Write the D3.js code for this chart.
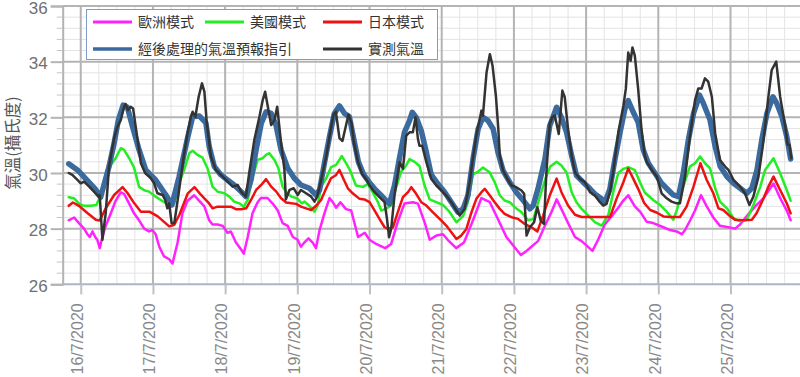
<!DOCTYPE html>
<html><head><meta charset="utf-8">
<script src="https://cdn.jsdelivr.net/npm/d3@7"></script>
<style>
body{margin:0;background:#fff;}
svg{display:block;font-family:"Liberation Sans",Arial,sans-serif;}
.cjk{font-family:"Noto Sans CJK TC","Noto Sans CJK SC",sans-serif;}
</style>
</head><body>
<svg id="chart" width="800" height="377"></svg>
<script>
// ---- data (hours after 16/7/2020 00:00, temperature °C) ----
const dayLabels = ["16/7/2020","17/7/2020","18/7/2020","19/7/2020","20/7/2020","21/7/2020","22/7/2020","23/7/2020","24/7/2020","25/7/2020"];
const yTickValues = [26,28,30,32,34,36];
const seriesNames = ["歐洲模式","美國模式","日本模式","經後處理的氣溫預報指引","實測氣溫"];

const ecmwf = [[-4,28.3],[-2.2,28.4],[-0.6,28.2],[1.1,28.0],[2.2,27.8],[3,27.7],[3.9,27.9],[4.8,27.7],[5.5,27.6],[6.3,27.3],[7.2,27.7],[8.3,28.1],[10,28.55],[11.6,29.0],[13.3,29.3],[14.4,29.25],[16.1,28.9],[17.7,28.55],[19.4,28.3],[21.1,28.0],[22.7,27.9],[23.8,27.95],[24.9,27.8],[26.1,27.35],[27.7,27.0],[29.4,26.9],[30.5,26.75],[32.2,27.5],[33.8,28.55],[35.5,29.0],[37.7,29.2],[39.4,29.0],[41.1,28.8],[42.7,28.3],[43.8,28.15],[45.5,28.15],[47.2,28.1],[48.8,27.85],[49.9,27.9],[51.6,27.5],[53.3,27.25],[54.2,27.1],[55.5,27.7],[57.1,28.55],[58.8,28.95],[59.9,29.1],[62.1,29.1],[63.8,28.9],[65.5,28.65],[67.1,28.2],[68.8,28.1],[70.5,27.7],[72.1,27.6],[73.2,27.35],[74.3,27.5],[75.7,27.65],[77.1,27.5],[78.2,27.3],[79.4,27.95],[81,28.55],[82.7,29.1],[83.8,28.95],[84.9,28.75],[86.3,28.95],[88.2,28.7],[89.9,28.65],[92.2,27.7],[94.4,27.85],[96,27.6],[98.2,27.45],[101.2,27.3],[103.2,27.45],[105.4,28.25],[107.6,28.9],[110.4,28.95],[112.1,28.9],[114.4,28.2],[116,27.6],[118.2,27.75],[120.4,27.8],[122,27.6],[124.8,27.3],[127.4,27.5],[130.4,28.3],[133.2,29.1],[136,28.95],[139.3,28.2],[141.5,27.7],[143.7,27.4],[146.3,27.05],[148.2,27.2],[149.8,27.35],[152,27.55],[154.3,28.1],[156.5,28.6],[158.2,29.05],[159.8,28.7],[162,28.2],[164.3,27.7],[166.5,27.55],[168.1,27.4],[170.1,27.2],[172,27.6],[174.2,28.15],[176.5,28.45],[178.7,28.75],[180.3,29.0],[182,29.2],[184.2,28.8],[186,28.6],[188.1,28.25],[190.3,28.2],[193.7,28.05],[195.9,27.95],[198.1,27.9],[199.8,27.8],[200.9,27.95],[202.6,28.3],[204.2,28.65],[206.2,29.2],[208.1,28.8],[210.3,28.4],[212.5,28.1],[215.3,28.05],[217.5,28.0],[219.2,28.15],[221.4,28.45],[224.2,28.8],[227,29.1],[230.3,29.62],[232.5,29.1],[234.7,28.65],[236,28.3]];

const ncep = [[-4,29.13],[-2.2,29.09],[-0.6,28.9],[1.1,28.82],[3.3,28.82],[5.2,28.85],[6.6,29.2],[8.3,29.88],[10,30.29],[11.6,30.53],[13.3,30.89],[14.4,30.83],[16.1,30.53],[17.7,30.2],[19.4,29.5],[21.1,29.38],[22.7,29.33],[24.9,29.15],[26.6,29.03],[28.3,28.91],[29.9,28.79],[31.1,28.91],[32.7,29.63],[34.4,30.12],[36.1,30.71],[37.2,30.8],[38.8,30.65],[40.5,30.55],[42.2,30.15],[43.8,29.51],[45.5,29.33],[47.7,29.27],[49.4,29.15],[51,28.97],[52.7,28.91],[54.2,28.79],[55.5,29.03],[57.2,29.87],[58.8,30.47],[60.5,30.53],[61.6,30.65],[62.7,30.71],[64.4,30.47],[65.7,30.17],[67.1,29.51],[68.6,29.27],[70.1,29.15],[71.9,29.09],[73.5,28.91],[74.4,28.97],[76,28.82],[77.7,28.61],[78.8,28.85],[79.9,29.51],[81.6,29.81],[83.2,30.21],[84.9,30.29],[86.8,30.61],[88.2,30.35],[89.5,30.1],[91.5,29.55],[93.8,29.5],[95.4,29.6],[97.1,29.3],[98.8,28.95],[99.9,28.65],[101.5,28.72],[103.2,28.83],[104.9,29.5],[106.5,30.05],[108.2,30.27],[109.3,30.5],[111,30.4],[112.6,30.25],[114.3,29.55],[116,29.05],[118.2,28.95],[120.4,28.85],[122.6,28.6],[124.9,28.23],[127.1,28.45],[128.7,28.95],[130.4,29.95],[132.1,30.05],[133.7,30.2],[135.9,30.03],[137.6,29.67],[139.3,29.2],[140.9,29.01],[142.6,28.95],[144.3,28.77],[146.5,28.59],[148.7,28.3],[150.5,28.35],[152.5,29.1],[154.5,29.8],[156,30.22],[158.2,30.4],[159.8,30.27],[161.5,30.02],[163.2,29.31],[164.8,28.95],[166.5,28.71],[168.7,28.47],[170.9,28.23],[173.2,28.11],[175.4,28.5],[177,29.31],[178.7,30.0],[180.4,30.15],[182,30.21],[184.2,30.1],[185.9,29.67],[187.5,29.3],[190.3,29.03],[192.6,28.85],[194.8,28.61],[197,28.32],[198.1,28.65],[200.3,29.51],[202.5,30.23],[204.2,30.35],[205.9,30.59],[207.5,30.35],[209.2,30.17],[210.9,29.45],[212.5,28.97],[214.8,28.73],[217,28.38],[219.2,28.26],[221.4,28.32],[223.6,28.85],[225.9,29.51],[227.5,30.11],[230.3,30.53],[232.5,29.99],[234.7,29.39],[236,29.0]];

const jma = [[-4,28.82],[-2.6,28.94],[-0.6,28.82],[2.2,28.56],[5,28.32],[6.3,28.29],[8.3,28.73],[11.1,29.21],[13.9,29.49],[15.6,29.27],[17.8,28.91],[20,28.61],[22.8,28.61],[25.6,28.44],[29.4,28.08],[31.1,28.14],[32.8,28.5],[35.6,29.27],[37.8,29.49],[40,29.21],[42.5,28.93],[43.8,28.73],[45.5,28.79],[47.7,28.79],[49.9,28.79],[51.6,28.7],[53.3,28.7],[55,28.73],[56.6,29.03],[58.3,29.39],[60,29.57],[61.6,29.78],[63.3,29.51],[65,29.33],[66.6,29.09],[68.3,28.94],[70,28.91],[71.6,28.89],[73.2,28.79],[74.9,28.73],[76.6,28.67],[78.2,28.82],[79.9,29.03],[81.6,29.45],[83.2,29.81],[84.9,29.93],[86,30.11],[87.5,29.75],[88.8,29.45],[90.4,29.27],[92.7,29.07],[94.3,29.05],[96,28.95],[97.7,28.65],[99.3,28.35],[101,28.05],[102.1,27.99],[103.8,28.05],[105.4,28.59],[107.1,29.13],[108.8,29.31],[109.9,29.49],[111.5,29.25],[113.2,28.95],[114.9,28.83],[116.5,28.65],[118.2,28.47],[119.9,28.29],[121.5,28.11],[123.2,27.87],[124.9,27.63],[126.5,27.75],[128.2,27.99],[129.9,28.59],[131.5,29.07],[133.2,29.31],[134.3,29.43],[136,29.19],[137.6,28.95],[139.3,28.71],[140.9,28.53],[143.2,28.41],[145.4,28.35],[147.6,28.17],[149.8,28.05],[151.8,27.9],[153.7,28.47],[155.9,29.19],[158.2,29.8],[159.8,29.31],[162,28.83],[164.3,28.5],[166.5,28.42],[176,28.42],[178.1,29.07],[180.4,29.67],[182,30.16],[183.7,29.79],[185.3,29.43],[187.3,28.92],[189.3,28.67],[191.4,28.58],[193.7,28.44],[195.9,28.42],[199.2,28.42],[201.4,28.79],[203.7,29.51],[206,30.35],[208.1,29.75],[210.3,29.27],[212,28.73],[213.6,28.67],[215.9,28.44],[217.5,28.32],[220.3,28.3],[223.1,28.32],[224.7,28.56],[227,29.09],[228.6,29.51],[230.3,29.87],[232.5,29.39],[234.7,28.91],[236,28.55]];

const guidance = [[-4,30.33],[-1,30.1],[2,29.75],[5,29.4],[6.6,29.13],[9.4,30.23],[11.1,31.07],[12.5,31.9],[14.1,32.44],[15.5,32.36],[17.2,31.67],[19.4,30.83],[21.6,30.11],[24.9,29.75],[28.3,29.21],[30.3,28.85],[32.7,29.87],[35.5,31.25],[37.2,32.02],[39.4,32.05],[41.6,31.8],[42.7,30.95],[44.4,30.23],[46.6,29.93],[48.8,29.75],[51,29.57],[53.3,29.33],[54.9,29.15],[56.6,29.75],[58.3,30.83],[60,31.78],[61.6,32.2],[63.3,32.14],[64.9,31.72],[66.6,30.83],[68.8,30.17],[71,29.81],[73.2,29.57],[76,29.45],[78.2,29.21],[79.4,29.39],[81,30.35],[82.7,31.31],[84.3,32.14],[86,32.41],[87.7,32.14],[89.3,32.02],[90.8,31.2],[92.3,30.4],[94,29.95],[96,29.65],[97.7,29.43],[99.9,29.19],[101.5,29.01],[102.6,28.89],[104.3,29.55],[105.9,30.5],[107.6,31.46],[109.3,31.88],[110.2,32.18],[111.5,32.0],[113.2,31.52],[114.9,30.74],[116.5,29.94],[118.7,29.61],[121,29.31],[123.2,28.95],[125.4,28.59],[127.1,28.71],[128.7,29.19],[130.4,30.5],[132.1,31.58],[133.7,32.0],[135.4,31.88],[137.1,31.58],[138.7,30.74],[140.4,30.08],[142.6,29.67],[144.8,29.31],[147.1,29.01],[149.3,28.71],[150.4,28.83],[152,29.43],[154.3,30.5],[155.9,31.7],[158.2,32.36],[159.8,32.0],[161.5,31.46],[163.2,30.62],[164.8,29.91],[167,29.67],[169.3,29.43],[170.9,29.25],[173.2,29.07],[174.3,28.95],[175.9,29.43],[177.6,30.5],[179.3,31.46],[180.9,32.3],[182,32.6],[183.7,32.18],[185.3,31.82],[187,30.83],[188.7,30.35],[190.9,29.99],[193.1,29.63],[195.3,29.39],[197,29.21],[198.7,29.15],[200.3,29.99],[202,31.19],[203.7,32.14],[205.7,32.8],[207,32.5],[209.2,31.9],[210.9,30.95],[212.6,30.23],[214.8,29.87],[217,29.63],[219.2,29.45],[221.4,29.27],[223.1,29.45],[224.8,30.11],[226.4,31.19],[228.1,32.14],[230.1,32.74],[231.4,32.5],[233.1,32.02],[234.7,31.31],[236,30.5]];

const observed = [[-4,30.0],[-2.8,29.93],[-1.1,29.75],[0,29.63],[1.1,29.69],[2.8,29.51],[4.4,29.33],[5.9,29.15],[6.3,29.21],[7.2,27.6],[8.3,28.56],[9.4,30.23],[11.1,31.25],[12.2,31.67],[13.3,31.9],[14.4,32.38],[14.9,32.48],[15.7,32.26],[16.6,32.38],[17.4,32.32],[18.9,31.19],[20,30.35],[21.4,30.0],[23.3,29.81],[24.4,29.63],[25.5,29.27],[27.2,29.21],[28.1,29.03],[28.8,28.73],[29.4,28.91],[30.2,28.2],[31.1,28.2],[31.6,28.56],[32.7,29.39],[34.4,30.71],[35.5,31.43],[36.6,32.02],[37.2,32.2],[38.1,32.02],[39.2,32.74],[40.3,33.22],[41.1,32.92],[41.9,31.78],[43.3,30.59],[44.9,30.11],[47.2,29.87],[49.4,29.63],[50.5,29.51],[52.2,29.57],[53.3,29.33],[54.9,29.15],[56,30.0],[57.7,31.19],[59.4,32.02],[60.5,32.62],[61.3,32.92],[62.2,32.38],[63.3,31.72],[64.4,31.9],[65.3,32.38],[66.6,31.07],[67.7,30.12],[68.2,29.05],[69.4,29.39],[70.8,29.45],[72.1,29.21],[73.2,29.39],[74.9,29.27],[76.6,29.15],[77.7,28.97],[78.6,29.15],[79.9,29.75],[81.6,30.59],[82.7,31.31],[84,32.1],[84.8,32.2],[86,31.25],[87,31.15],[89,32.1],[90,31.8],[90.8,31.1],[92.2,30.39],[93.5,29.97],[95.2,29.73],[96,29.55],[97.7,29.31],[99.3,29.13],[101,28.95],[101.8,28.35],[102.5,27.69],[103.2,27.99],[104.3,29.19],[106,30.39],[107.1,30.15],[108.2,31.34],[109.3,31.46],[110.4,31.46],[111.3,32.0],[112.1,31.22],[112.6,30.98],[113.5,30.98],[114.9,30.39],[116.5,29.79],[118.2,29.55],[119.9,29.37],[121.5,29.19],[123.2,28.95],[124.9,28.65],[126,28.47],[127.6,28.71],[129.3,29.67],[130.4,30.56],[131.5,31.34],[132.4,31.82],[133.2,32.24],[133.7,32.06],[134.9,33.61],[136,34.27],[136.9,33.85],[138,32.78],[138.8,31.6],[139.3,30.62],[140.4,30.09],[142.1,29.73],[143.2,29.55],[144.8,29.49],[146.5,29.37],[147.4,29.25],[148.2,27.75],[149.3,28.05],[150.7,28.23],[151.8,28.77],[152.9,28.29],[154,28.17],[154.8,30.03],[155.9,31.76],[156.7,32.0],[157.6,32.06],[158.9,31.4],[160.1,32.96],[160.9,32.72],[162,31.58],[163.2,30.62],[164.3,30.03],[165.9,29.79],[167.6,29.67],[169.3,29.31],[170.9,29.19],[172.6,28.95],[173.7,28.83],[174.8,28.89],[175.9,29.31],[177,30.03],[178.7,31.46],[180.4,32.42],[181.2,33.02],[182,34.33],[182.8,34.03],[183.4,34.51],[184.2,34.21],[185.3,33.02],[186.4,31.58],[187.5,30.62],[188.1,30.41],[189.8,30.11],[191.5,29.87],[193.1,29.27],[194.8,29.09],[196.4,28.97],[198.1,28.91],[199.2,28.91],[200.9,29.87],[202.5,31.31],[204.2,32.62],[205.3,33.04],[206.4,33.04],[207.5,33.4],[208.6,33.28],[209.8,32.74],[210.9,31.43],[212.5,30.47],[214.2,30.23],[215.3,30.11],[217,29.75],[219.2,29.51],[220.8,29.27],[222.3,28.85],[223.6,29.15],[225.3,29.87],[227,31.19],[228.6,32.74],[229.7,33.7],[231.2,34.0],[232.5,32.74],[234.2,31.67],[235,31.01],[235.6,31.01],[236.2,30.53]];

// ---- drawing ----
const svg = d3.select("#chart");
const base = new Date(2020, 6, 16, 0, 0);
const toDate = h => new Date(base.getTime() + h * 3600e3);

const x = d3.scaleTime()
  .domain([new Date(2020, 6, 15, 18), new Date(2020, 6, 26, 0)])
  .range([62.7, 802.7]);
const y = d3.scaleLinear().domain([26, 36]).range([284.3, 6]);

const dayDates = dayLabels.map((_, i) => d3.timeDay.offset(base, i));

// grid
const grid = svg.append("g");
const minorX = d3.timeHour.every(6).range(x.domain()[0], x.domain()[1]);
grid.selectAll(".mx").data(minorX).join("line")
  .attr("x1", d => x(d)).attr("x2", d => x(d)).attr("y1", y(36)).attr("y2", y(26))
  .attr("stroke", "#e3e3e3").attr("stroke-width", 1);
const minorY = d3.range(0, 26).map(i => 26 + i * 0.4);
grid.selectAll(".my").data(minorY).join("line")
  .attr("x1", 62.7).attr("x2", 800).attr("y1", d => y(d)).attr("y2", d => y(d))
  .attr("stroke", "#e3e3e3").attr("stroke-width", 1);
grid.selectAll(".Mx").data(dayDates).join("line")
  .attr("x1", d => x(d)).attr("x2", d => x(d)).attr("y1", y(36)).attr("y2", y(26))
  .attr("stroke", "#b4b4b4").attr("stroke-width", 2);
grid.selectAll(".My").data(yTickValues.filter(v => v > 26)).join("line")
  .attr("x1", 62.7).attr("x2", 800).attr("y1", d => y(d)).attr("y2", d => y(d))
  .attr("stroke", "#b4b4b4").attr("stroke-width", 2);

// y axis
const yAxisG = svg.append("g").attr("transform", "translate(62.7,0)")
  .call(d3.axisLeft(y).tickValues(yTickValues).tickSize(12).tickPadding(3));
yAxisG.select(".domain").attr("stroke", "#b4b4b4").attr("stroke-width", 2);
yAxisG.selectAll(".tick line").attr("stroke", "#b4b4b4").attr("stroke-width", 2);
yAxisG.selectAll(".tick text").attr("font-size", 17).attr("fill", "#707070")
  .attr("dy", "0.42em")
  .attr("font-family", "Liberation Sans, Arial, sans-serif");
const minorTicks = minorY.filter(v => !yTickValues.includes(Math.round(v * 10) / 10));
svg.append("g").selectAll("line").data(minorTicks).join("line")
  .attr("x1", 56.7).attr("x2", 62.7).attr("y1", d => y(d)).attr("y2", d => y(d))
  .attr("stroke", "#c4c4c4").attr("stroke-width", 1);

// x axis
const xAxisG = svg.append("g").attr("transform", `translate(0,${y(26)})`)
  .call(d3.axisBottom(x).tickValues(dayDates).tickSize(10)
    .tickFormat((d, i) => dayLabels[i]));
xAxisG.select(".domain").attr("stroke", "#a9b7c9").attr("stroke-width", 2)
  .attr("d", `M62.7,0H800`);
xAxisG.selectAll(".tick line").attr("stroke", "#c0c0c0").attr("stroke-width", 2);
xAxisG.selectAll(".tick text")
  .attr("transform", "rotate(-90)")
  .attr("text-anchor", "end")
  .attr("x", -19).attr("y", 1.8).attr("dy", 0)
  .attr("font-size", 16).attr("fill", "#888888")
  .attr("font-family", "Liberation Sans, Arial, sans-serif");

// y title
svg.append("text").attr("class", "cjk")
  .attr("transform", "translate(19,143) rotate(-90)")
  .attr("text-anchor", "middle").attr("font-size", 16.5).attr("fill", "#555")
  .text("氣溫(攝氏度)");

// series
const series = [
  {data: ecmwf, color: "#ff22ff", width: 2.5},
  {data: ncep, color: "#22ee22", width: 2.5},
  {data: jma, color: "#ee1111", width: 2.5},
  {data: guidance, color: "#3a6a9e", width: 5.5},
  {data: observed, color: "#333333", width: 2.5}
];
const line = d3.line().x(d => x(toDate(d[0]))).y(d => y(d[1]));
svg.append("g").selectAll("path").data(series).join("path")
  .attr("d", s => line(s.data)).attr("fill", "none")
  .attr("stroke", s => s.color).attr("stroke-width", s => s.width)
  .attr("stroke-linejoin", "round").attr("stroke-linecap", "round");

// legend
const lg = svg.append("g");
lg.append("rect").attr("x", 86.5).attr("y", 9.5).attr("width", 351).attr("height", 50)
  .attr("fill", "#fff").attr("stroke", "#7f9bc6").attr("stroke-width", 1);
const legendPos = [[93, 22], [205, 22], [323, 22], [93, 49], [323, 49]];
series.forEach((s, i) => {
  const [lx, ly] = legendPos[i];
  lg.append("line").attr("x1", lx).attr("x2", lx + 39).attr("y1", ly).attr("y2", ly)
    .attr("stroke", s.color).attr("stroke-width", i === 3 ? 3.5 : 3);
  lg.append("text").attr("class", "cjk").attr("x", lx + 45).attr("y", ly).attr("dy", "0.36em")
    .attr("font-size", 14).attr("fill", "#333").text(seriesNames[i]);
});
</script>
</body></html>
